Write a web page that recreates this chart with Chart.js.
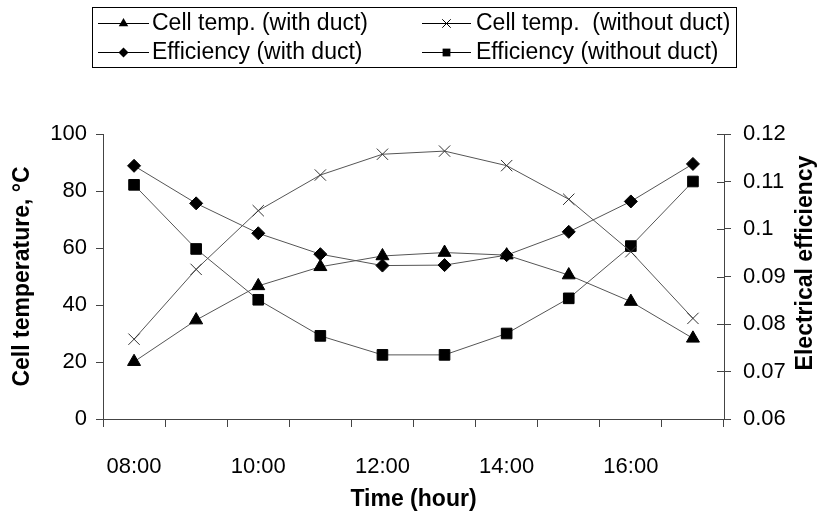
<!DOCTYPE html>
<html><head><meta charset="utf-8">
<script src="https://cdn.jsdelivr.net/npm/chart.js@4.4.1/dist/chart.umd.min.js"></script>
<style>html,body{margin:0;padding:0;background:#fff;}#wrap{width:823px;height:517px;}</style>
</head><body><div id="wrap"><canvas id="c" width="823" height="517"></canvas></div>
<script>
const hours = ['08:00','09:00','10:00','11:00','12:00','13:00','14:00','15:00','16:00','17:00'];
const tickLabels = ['08:00','','10:00','','12:00','','14:00','','16:00',''];
const seriesLabels = ['Cell temp. (with duct)','Cell temp.  (without duct)','Efficiency (with duct)','Efficiency (without duct)'];
const cellTempWithDuct = [20.1,34.7,46.7,53.4,57.2,58.4,57.5,50.5,41.2,28.3];
const cellTempWithoutDuct = [28.0,52.5,73.1,85.6,92.9,94.0,88.9,77.1,58.7,35.3];
const effWithDuct = [0.1133,0.1054,0.0991,0.0947,0.0923,0.0924,0.0945,0.0994,0.1058,0.1137];
const effWithoutDuct = [0.1093,0.0958,0.0851,0.0775,0.0735,0.0735,0.0780,0.0854,0.0964,0.1100];
const leftTitle = 'Cell temperature, \u00B0C';
const rightTitle = 'Electrical efficiency';
const xTitle = 'Time (hour)';

const FONT = "'Liberation Sans', Arial, Helvetica, sans-serif";
Chart.defaults.font.family = FONT;
Chart.defaults.color = '#000';

function drawMarker(ctx, style, x, y, r) {
  ctx.beginPath();
  if (style === 'triangle') {
    ctx.moveTo(x, y - r);
    ctx.lineTo(x + r * 0.866, y + r * 0.5);
    ctx.lineTo(x - r * 0.866, y + r * 0.5);
    ctx.closePath(); ctx.fill();
  } else if (style === 'rectRot') {
    ctx.moveTo(x, y - r); ctx.lineTo(x + r, y); ctx.lineTo(x, y + r); ctx.lineTo(x - r, y);
    ctx.closePath(); ctx.fill();
  } else if (style === 'rect') {
    const s = r * 0.7071;
    ctx.rect(x - s, y - s, 2 * s, 2 * s); ctx.fill();
  } else if (style === 'crossRot') {
    const s = r * 0.7071;
    ctx.moveTo(x - s, y - s); ctx.lineTo(x + s, y + s);
    ctx.moveTo(x + s, y - s); ctx.lineTo(x - s, y + s);
    ctx.stroke();
  }
}

const legendPlugin = {
  id: 'boxLegend',
  afterDraw(chart) {
    const ctx = chart.ctx;
    ctx.save();
    ctx.strokeStyle = '#000'; ctx.lineWidth = 1;
    ctx.strokeRect(92.5, 7.5, 644, 60);
    const cols = [{lx0: 98, lx1: 149, tx: 152}, {lx0: 422, lx1: 471, tx: 476}];
    const rows = [23, 52];
    chart.data.datasets.forEach((ds, i) => {
      const c = cols[i % 2], y = rows[Math.floor(i / 2)];
      ctx.strokeStyle = '#000'; ctx.lineWidth = 1;
      ctx.beginPath(); ctx.moveTo(c.lx0, y + 0.5); ctx.lineTo(c.lx1, y + 0.5); ctx.stroke();
      ctx.fillStyle = '#000'; ctx.strokeStyle = '#000';
      drawMarker(ctx, ds.pointStyle, (c.lx0 + c.lx1) / 2, y + 0.5, ds.legendRadius);
      ctx.fillStyle = '#000';
      ctx.font = '23px ' + FONT;
      ctx.textAlign = 'left'; ctx.textBaseline = 'middle';
      ctx.fillText(ds.label, c.tx, y + 1);
    });
    // right axis title (reads bottom to top)
    const a = chart.chartArea;
    ctx.save();
    ctx.translate(806, 263);
    ctx.rotate(-Math.PI / 2);
    ctx.font = 'bold 23px ' + FONT;
    ctx.textAlign = 'center'; ctx.textBaseline = 'middle';
    ctx.fillText(rightTitle, 0, 0);
    ctx.restore();
    // right axis ticks crossing into plot
    const y1 = chart.scales.y1;
    ctx.strokeStyle = '#444'; ctx.lineWidth = 1;
    y1.ticks.forEach(t => {
      const py = Math.round(y1.getPixelForValue(t.value)) + 0.5;
      ctx.beginPath(); ctx.moveTo(a.right - 7, py); ctx.lineTo(a.right, py); ctx.stroke();
    });
    ctx.restore();
  }
};

const lineColor = '#555';
function ds(label, data, style, r, lr, axis) {
  return {
    label, data, yAxisID: axis,
    borderColor: lineColor, borderWidth: 1, tension: 0, fill: false,
    pointStyle: style, pointRadius: r, pointHoverRadius: r,
    pointBackgroundColor: '#000', pointBorderColor: style === 'crossRot' ? '#333' : '#000',
    pointBorderWidth: 1, legendRadius: lr
  };
}

new Chart(document.getElementById('c'), {
  type: 'line',
  data: {
    labels: hours,
    datasets: [
      ds(seriesLabels[0], cellTempWithDuct, 'triangle', 7.5, 5.5, 'y'),
      ds(seriesLabels[1], cellTempWithoutDuct, 'crossRot', 8, 6, 'y'),
      ds(seriesLabels[2], effWithDuct, 'rectRot', 6.5, 5, 'y1'),
      ds(seriesLabels[3], effWithoutDuct, 'rect', 7.5, 5.5, 'y1')
    ]
  },
  options: {
    responsive: false, animation: false,
    layout: { padding: { top: 134, left: 0, right: 0, bottom: 0 } },
    plugins: { legend: { display: false }, tooltip: { enabled: false }, title: { display: false } },
    scales: {
      x: {
        type: 'category', offset: true,
        grid: { offset: true, drawOnChartArea: false, tickLength: 8, color: '#444' },
        border: { color: '#444', width: 1 },
        ticks: { autoSkip: false, maxRotation: 0, minRotation: 0, padding: 27, font: { size: 22 }, color: '#000',
          callback: (v, i) => tickLabels[i] },
        title: { display: true, text: xTitle, font: { size: 23, weight: 'bold' }, color: '#000', padding: { top: 0, bottom: 4 } },
        afterFit: s => { s.height = 98; }
      },
      y: {
        position: 'left', min: 0, max: 100,
        grid: { drawOnChartArea: false, tickLength: 7, color: '#444' },
        border: { color: '#444', width: 1 },
        ticks: { stepSize: 20, padding: 9, font: { size: 22 }, color: '#000' },
        title: { display: true, text: leftTitle, font: { size: 23, weight: 'bold' }, color: '#000', padding: { top: 9, bottom: 0 } },
        afterFit: s => { s.width = 103; }
      },
      y1: {
        position: 'right', min: 0.06, max: 0.12,
        grid: { drawOnChartArea: false, tickLength: 7, color: '#444' },
        border: { color: '#444', width: 1 },
        ticks: { stepSize: 0.01, padding: 12, font: { size: 22 }, color: '#000',
          callback: v => String(parseFloat(v.toFixed(2))) },
        afterFit: s => { s.width = 99; }
      }
    }
  },
  plugins: [legendPlugin]
});
</script></body></html>
